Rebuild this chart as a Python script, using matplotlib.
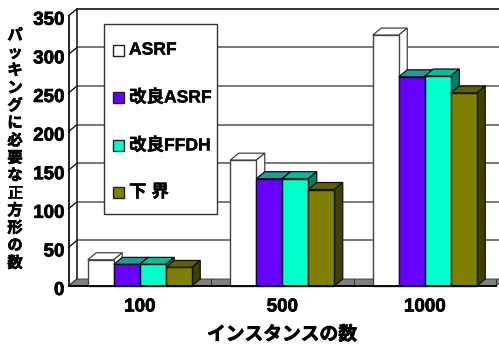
import matplotlib
matplotlib.use("Agg")
import matplotlib.pyplot as plt
import matplotlib.patheffects as pe
from matplotlib.patches import Polygon, Rectangle
from matplotlib.transforms import ScaledTranslation

# データ
instances = ["100", "500", "1000"]
asrf = [34, 163, 325]
asrf_improved = [28, 139, 271]
ffdh_improved = [28, 139, 272]
lower_bound = [24, 125, 250]
y_ticks = [0, 50, 100, 150, 200, 250, 300, 350]
series_names = ["ASRF", "改良ASRF", "改良FFDH", "下 界"]
y_title = "パッキングに必要な正方形の数"
x_title = "インスタンスの数"

W, H = 499, 347
FONTS = ["Liberation Sans", "Noto Sans CJK JP"]
HEAVY = [pe.withStroke(linewidth=0.5, foreground="black")]

fig = plt.figure(figsize=(W / 100, H / 100), dpi=100, facecolor="white")
# 前面の軸: 左 68.5px, 右 496px, 下 286px
ax = fig.add_axes([68.5 / W, (H - 286) / H, 427.5 / W, 270.2 / H])
ax.set_xlim(-0.5, 2.5)
ax.set_ylim(0, 350)
for s in ax.spines.values():
    s.set_visible(False)

# 奥行き(データ単位)
dx = 8.5 / 142.5
dy = 7 / 0.772
bar_w = 26 / 142.5

# 奥の壁
ax.add_patch(Rectangle((-0.5 + dx, dy), 3.2, 350, fc="white", ec="none", zorder=0, clip_on=False))
for v in y_ticks:
    col = "black" if v == 350 else "#555555"
    if v > 0:
        ax.plot([-0.5 + dx, 2.7], [v + dy, v + dy], color=col, lw=1.1, zorder=1, clip_on=False)
    # 左の壁の斜め線
    ax.plot([-0.5, -0.5 + dx], [v, v + dy], color="black", lw=0.9, zorder=1, clip_on=False)
ax.plot([-0.5 + dx, -0.5 + dx], [dy, 350 + dy], color="#222222", lw=1.2, zorder=1, clip_on=False)
ax.plot([-0.5, -0.5], [0, 350], color="black", lw=1.2, zorder=6, clip_on=False)

# 床
ax.add_patch(Polygon([(-0.5, 0), (-0.5 + dx, dy), (2.5 + dx, dy), (2.5, 0)],
                     fc="#808080", ec="#333333", lw=0.6, zorder=1, clip_on=False))
for b in [0.5, 1.5, 2.5]:
    ax.plot([b, b], [0, dy], color="#333333", lw=0.8, zorder=1.5, clip_on=False)

# 棒 (前面, 上面, 側面の色)
styles = [
    (asrf, "white", "white", "white", "#444444"),
    (asrf_improved, "#6600FF", "#219A9A", "#330080", "#111111"),
    (ffdh_improved, "#00FFCC", "#00BF99", "#008066", "#111111"),
    (lower_bound, "#808000", "#606000", "#404000", "#111111"),
]
z = 2
for g in range(len(instances)):
    for i, (vals, front, top, side, edge) in enumerate(styles):
        left = g - 2 * bar_w + i * bar_w
        right = left + bar_w
        v = vals[g]
        ax.bar(left, v, width=bar_w, align="edge", color=front, edgecolor=edge, linewidth=1.0, zorder=z + 0.2, clip_on=False)
        ax.add_patch(Polygon([(left, v), (left + dx, v + dy), (right + dx, v + dy), (right, v)],
                             fc=top, ec=edge, lw=0.9, zorder=z, clip_on=False))
        ax.add_patch(Polygon([(right, 0), (right + dx, dy), (right + dx, v + dy), (right, v)],
                             fc=side, ec=edge, lw=0.9, zorder=z, clip_on=False))
        z += 0.5

ax.plot([-0.5, 2.5], [0, 0], color="black", lw=1.3, zorder=z, clip_on=False)

ax.set_xticks(range(len(instances)))
ax.set_xticklabels(instances, fontsize=13.5, fontweight="bold", family=FONTS, path_effects=HEAVY)
ax.set_yticks(y_ticks)
ax.set_yticklabels(y_ticks, fontsize=13.5, fontweight="bold", family=FONTS, path_effects=HEAVY)
ax.tick_params(axis="x", length=0, pad=9)
ax.tick_params(axis="y", length=0, pad=3)
# 目盛ラベルを少し下げる
shift = ScaledTranslation(0, -2.5 / 100, fig.dpi_scale_trans)
for label in ax.get_yticklabels():
    label.set_transform(label.get_transform() + shift)


def px(x, y):
    return x / W, (H - y) / H


# 縦書きの軸タイトル
for i, ch in enumerate(y_title):
    fig.text(*px(15, 36 + i * 17.5), ch, fontsize=11, fontweight="bold", family=FONTS,
             ha="center", va="center", path_effects=HEAVY)
fig.text(*px(282, 335), x_title, fontsize=13.5, fontweight="bold", family=FONTS,
         ha="center", va="center", path_effects=HEAVY)

# 凡例
legend_ax = fig.add_axes([0, 0, 1, 1], facecolor="none")
legend_ax.set_xlim(0, W)
legend_ax.set_ylim(H, 0)
legend_ax.axis("off")
legend_ax.add_patch(Rectangle((104, 24), 113.5, 190, fc="white", ec="#333333", lw=1.0))
legend_y = [50, 97, 145, 192]
for y, name, st in zip(legend_y, series_names, styles):
    legend_ax.add_patch(Rectangle((113, y - 5.5), 11, 11, fc=st[1], ec="#222222", lw=1.0))
    legend_ax.text(129, y, name, fontsize=12.6, fontweight="bold", family=FONTS, va="center", ha="left",
                   path_effects=[pe.withStroke(linewidth=0.3, foreground="black")])

fig.savefig("out.png", dpi=100)
